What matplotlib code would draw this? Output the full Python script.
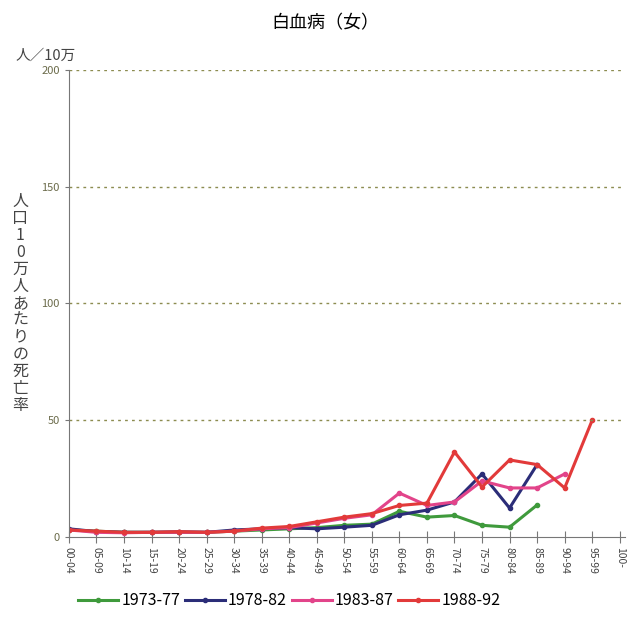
import numpy as np
import matplotlib.pyplot as plt

plt.rcParams['font.family'] = ['Noto Sans CJK JP', 'DejaVu Sans']

ages = ["00-04", "05-09", "10-14", "15-19", "20-24", "25-29", "30-34", "35-39",
        "40-44", "45-49", "50-54", "55-59", "60-64", "65-69", "70-74", "75-79",
        "80-84", "85-89", "90-94", "95-99", "100-"]

# 死亡率 (人口10万人あたり)
s1973 = [3.0, 2.5, 2.0, 2.0, 2.0, 2.0, 2.5, 3.0, 3.5, 4.0, 5.0, 5.5, 11.0, 8.5, 9.2, 5.0, 4.2, 13.7]
s1978 = [3.5, 2.3, 2.0, 2.0, 2.2, 2.0, 3.0, 3.5, 4.0, 3.5, 4.2, 5.0, 9.5, 11.5, 15.0, 27.0, 12.4, 31.0]
s1983 = [3.0, 2.0, 1.8, 2.0, 2.0, 2.0, 2.5, 3.5, 4.0, 6.0, 8.0, 9.5, 18.8, 13.5, 15.0, 24.0, 21.0, 21.0, 27.0]
s1988 = [3.0, 2.5, 2.0, 2.0, 2.3, 2.0, 2.5, 3.8, 4.5, 6.5, 8.5, 10.0, 13.5, 14.5, 36.4, 21.4, 33.0, 31.0, 21.0, 50.0]

series = [("1973-77", s1973, "#3f9a3c"),
          ("1978-82", s1978, "#2b2d78"),
          ("1983-87", s1983, "#e2448a"),
          ("1988-92", s1988, "#e23a3a")]

fig = plt.figure(figsize=(6.38, 6.19), dpi=100)
ax = fig.add_axes([0.108, 0.1325, 0.872, 0.7545])

x = np.arange(len(ages))
for name, vals, col in series:
    ax.plot(x[:len(vals)], vals, color=col, lw=2.2, marker='o', ms=3, label=name)

ax.set_xlim(0, 20.2)
ax.set_ylim(0, 200)
ax.set_yticks([0, 50, 100, 150, 200])
ax.set_xticks(x)
ax.set_xticklabels(ages, rotation=270, fontsize=7.5, color='#444444')
ax.tick_params(axis='y', length=3, labelsize=8, labelcolor='#6b6b4a', color='#777777')
ax.tick_params(axis='x', direction='inout', length=8, color='#777777')
for v in [50, 100, 150, 200]:
    ax.axhline(v, color='#8c8c50', lw=1, ls=(0, (2, 3)))
for s in ['top', 'right']:
    ax.spines[s].set_visible(False)
ax.spines['left'].set_color('#777777')
ax.spines['bottom'].set_color('#777777')

fig.text(0.51, 0.963, "白血病（女）", ha='center', va='center', fontsize=13)
fig.text(0.025, 0.91, "人／10万", ha='left', va='center', fontsize=10.5, color='#444444')
fig.text(0.032, 0.51, "\n".join("人口10万人あたりの死亡率"), ha='center', va='center',
         fontsize=11.5, color='#444444', linespacing=1.0)

ax.legend(loc='upper left', bbox_to_anchor=(0.005, -0.105), ncol=4, frameon=False,
          fontsize=11.5, handlelength=2.5, handletextpad=0.2, columnspacing=0.3,
          borderaxespad=0)

fig.savefig("out.png", dpi=100)
